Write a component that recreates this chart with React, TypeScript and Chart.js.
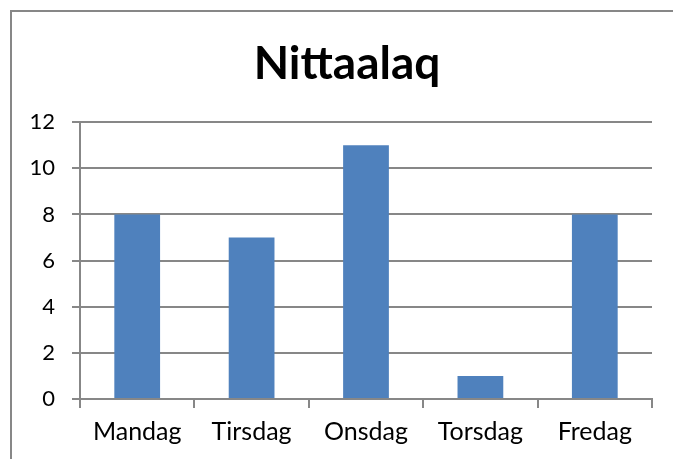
import React, { useEffect, useRef } from "react";
import { Chart, registerables } from "chart.js";

Chart.register(...registerables);

const categories = ["Mandag", "Tirsdag", "Onsdag", "Torsdag", "Fredag"];
const values = [8, 7, 11, 1, 8];
const titleText = "Nittaalaq";
const yMin = 0;
const yMax = 12;
const yStep = 2;

const GRAY = "#878787";
const FONT = "Lato, 'Open Sans', sans-serif";

// The chart frame extends beyond the right edge of the window, so the title is
// centred on the (wider) frame rather than on the visible canvas area.
const shiftTitle = {
  id: "shiftTitle",
  afterLayout(chart: any) {
    const t = chart.titleBlock;
    if (t) {
      t.left += 15;
      t.right += 15;
    }
  },
};

export default function App() {
  const ref = useRef<HTMLCanvasElement>(null);

  useEffect(() => {
    if (!ref.current) return;
    const chart = new Chart(ref.current, {
      type: "bar",
      data: {
        labels: categories,
        datasets: [
          {
            data: values,
            backgroundColor: "#4F81BD",
            borderWidth: 0,
            categoryPercentage: 1,
            barPercentage: 0.4,
          },
        ],
      },
      plugins: [shiftTitle],
      options: {
        responsive: false,
        animation: false,
        layout: { padding: { top: 0, left: 0, right: 36, bottom: 0 } },
        plugins: {
          legend: { display: false },
          tooltip: { enabled: false },
          title: {
            display: true,
            text: titleText,
            color: "#000",
            font: { family: FONT, size: 46, weight: "bold", lineHeight: 1.2 },
            padding: { top: 25, bottom: 30 },
          },
        },
        scales: {
          x: {
            afterFit: (s: any) => {
              s.height = 89;
            },
            grid: {
              display: true,
              offset: true,
              drawOnChartArea: false,
              drawTicks: true,
              tickLength: 9,
              color: GRAY,
              lineWidth: 2,
            },
            border: { display: true, color: GRAY, width: 2 },
            ticks: {
              color: "#000",
              font: { family: FONT, size: 25 },
              padding: 9,
              maxRotation: 0,
            },
          },
          y: {
            min: yMin,
            max: yMax,
            afterFit: (s: any) => {
              s.width = 68;
            },
            grid: {
              color: GRAY,
              lineWidth: 2,
              drawTicks: true,
              tickLength: 8,
            },
            border: { display: true, color: GRAY, width: 2 },
            ticks: {
              stepSize: yStep,
              color: "#000",
              font: { family: FONT, size: 22 },
              padding: 17,
            },
          },
        },
      },
    });
    return () => chart.destroy();
  }, []);

  return (
    <div
      style={{
        position: "fixed",
        left: 0,
        top: 0,
        width: 673,
        height: 459,
        overflow: "hidden",
        background: "#fff",
      }}
    >
      <div
        style={{
          position: "absolute",
          left: 10,
          top: 10,
          width: 680,
          height: 480,
          border: `2px solid ${GRAY}`,
          boxSizing: "border-box",
        }}
      >
        <canvas ref={ref} width={676} height={476} style={{ display: "block" }} />
      </div>
    </div>
  );
}
